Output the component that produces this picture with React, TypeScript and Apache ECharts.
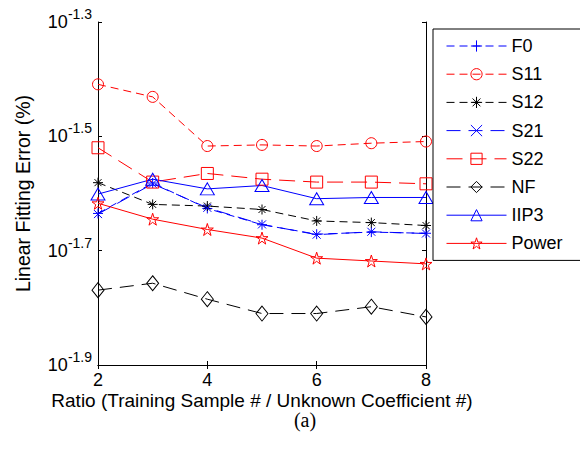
import React, { useEffect, useRef } from 'react';
import * as echarts from 'echarts';

// Ratio (Training Sample # / Unknown Coefficient #)
const ratios = [2, 3, 4, 5, 6, 7, 8];

// Linear fitting error (%) per metric
const f0 = [0.02318, 0.0262, 0.02365, 0.02215, 0.02132, 0.0215, 0.0214];
const s11 = [0.03899, 0.03707, 0.03041, 0.03055, 0.03041, 0.03076, 0.03097];
const s12 = [0.02624, 0.02404, 0.02388, 0.02355, 0.02249, 0.02234, 0.02208];
const s21 = [0.02312, 0.02612, 0.02371, 0.02218, 0.02128, 0.02153, 0.02138];
const s22 = [0.0302, 0.0263, 0.02723, 0.02661, 0.0263, 0.0263, 0.02612];
const nf = [0.01702, 0.0175, 0.01641, 0.01549, 0.01549, 0.01592, 0.01528];
const iip3 = [0.02506, 0.02661, 0.02559, 0.02594, 0.0246, 0.02472, 0.02472];
const power = [0.02415, 0.02265, 0.02173, 0.02099, 0.01936, 0.01914, 0.01892];

// Y axis: decades shown as 10^exponent
const yTickExponents = ['-1.9', '-1.7', '-1.5', '-1.3'];
const yMinExp = -1.9;
const yMaxExp = -1.3;

const PLUS = 'path://M5,0L5,10M0,5L10,5';
const CROSS = 'path://M0,0L10,10M10,0L0,10';
const ASTER = 'path://M5,0L5,10M0,5L10,5M1.5,1.5L8.5,8.5M8.5,1.5L1.5,8.5';
const PENTA =
  'path://M5,0L6.117,3.463L9.755,3.455L6.807,5.587L7.939,9.045L5,6.9L2.061,9.045L3.193,5.587L0.245,3.455L3.883,3.463Z';

const RED = '#ff0000';
const BLUE = '#0000ff';
const BLACK = '#000000';
const FONT = '"Liberation Sans", Arial, sans-serif';

function mk(
  name: string,
  values: number[],
  color: string,
  symbol: string,
  size: number | number[],
  dash: any
) {
  return {
    name,
    type: 'line',
    xAxisIndex: 0,
    yAxisIndex: 0,
    data: ratios.map((x, i) => [x, values[i]]),
    symbol,
    symbolSize: size,
    showSymbol: true,
    clip: false,
    lineStyle: { color, width: 1, type: dash },
    itemStyle: { color: 'none', borderColor: color, borderWidth: 1 },
    emphasis: { disabled: true },
  };
}

export default function App() {
  const ref = useRef<HTMLDivElement>(null);
  useEffect(() => {
    const chart = echarts.init(ref.current!, null, { renderer: 'svg' });
    const axisLine = { show: true, lineStyle: { color: BLACK, width: 1 } };
    const axisTick = { show: true, inside: true, length: 4, lineStyle: { color: BLACK, width: 1 } };
    const option: any = {
      animation: false,
      backgroundColor: '#fff',
      grid: { left: 98, right: 154, top: 22, bottom: 87, containLabel: false },
      xAxis: [
        {
          type: 'value',
          min: 2,
          max: 8,
          interval: 2,
          position: 'bottom',
          axisLine,
          axisTick,
          splitLine: { show: false },
          axisLabel: { color: BLACK, fontSize: 18, lineHeight: 14, fontFamily: FONT, margin: 8 },
          name: 'Ratio (Training Sample # / Unknown Coefficient #)',
          nameLocation: 'middle',
          nameGap: 27,
          nameMoveOverlap: false,
          nameTextStyle: { color: BLACK, fontSize: 19, lineHeight: 16, fontFamily: FONT },
        },
        {
          type: 'value',
          min: 2,
          max: 8,
          interval: 2,
          position: 'top',
          axisLine,
          axisTick,
          splitLine: { show: false },
          axisLabel: { show: false },
        },
      ],
      yAxis: [
        {
          type: 'log',
          logBase: 10,
          min: Math.pow(10, yMinExp),
          max: Math.pow(10, yMaxExp),
          show: false,
          splitLine: { show: false },
        },
        {
          type: 'value',
          min: 0,
          max: 6,
          interval: 2,
          position: 'left',
          axisLine,
          axisTick,
          splitLine: { show: false },
          axisLabel: {
            margin: 6,
            formatter: (v: number) => `{b|10}{s|${yTickExponents[Math.round(v / 2)]}}`,
            rich: {
              b: { fontSize: 18, lineHeight: 18, fontFamily: FONT, color: BLACK, padding: [6, 0, 6, 0] },
              s: { fontSize: 14, lineHeight: 14, fontFamily: FONT, color: BLACK, padding: [0, 0, 16, 0] },
            },
          },
          name: 'Linear Fitting Error (%)',
          nameLocation: 'middle',
          nameGap: 65,
          nameMoveOverlap: false,
          nameTextStyle: { color: BLACK, fontSize: 19.5, fontFamily: FONT },
        },
        {
          type: 'value',
          min: 0,
          max: 6,
          interval: 2,
          position: 'right',
          axisLine,
          axisTick,
          splitLine: { show: false },
          axisLabel: { show: false },
        },
      ],
      legend: {
        orient: 'vertical',
        left: 433,
        top: 29,
        itemWidth: 60,
        itemHeight: 14,
        itemGap: 8.2,
        padding: [7, 21, 7, 13],
        borderColor: BLACK,
        borderWidth: 1,
        backgroundColor: '#fff',
        itemStyle: { color: 'none', borderWidth: 1 },
        lineStyle: { width: 1 },
        textStyle: { color: BLACK, fontSize: 18, lineHeight: 20, fontFamily: FONT },
        data: ['F0', 'S11', 'S12', 'S21', 'S22', 'NF', 'IIP3', 'Power'],
      },
      graphic: [
        {
          type: 'text',
          x: 305,
          y: 420,
          style: {
            text: '(a)',
            fill: BLACK,
            font: '20px "Liberation Serif", "Times New Roman", serif',
            align: 'center',
            verticalAlign: 'middle',
          },
        },
      ],
      series: [
        mk('F0', f0, BLUE, PLUS, 10, [8, 5]),
        mk('S11', s11, RED, 'circle', 11, [8, 5]),
        mk('S12', s12, BLACK, ASTER, 10, [8, 5]),
        mk('S21', s21, BLUE, CROSS, 8, [14, 8]),
        mk('S22', s22, RED, 'rect', 12, [16, 8]),
        mk('NF', nf, BLACK, 'diamond', [12, 15], [14, 8]),
        mk('IIP3', iip3, BLUE, 'triangle', [14, 12], 'solid'),
        mk('Power', power, RED, PENTA, 12, 'solid'),
      ],
    };
    chart.setOption(option);
    return () => chart.dispose();
  }, []);
  return (
    <div
      ref={ref}
      style={{ position: 'fixed', left: 0, top: 0, width: 580, height: 452, background: '#fff' }}
    />
  );
}
